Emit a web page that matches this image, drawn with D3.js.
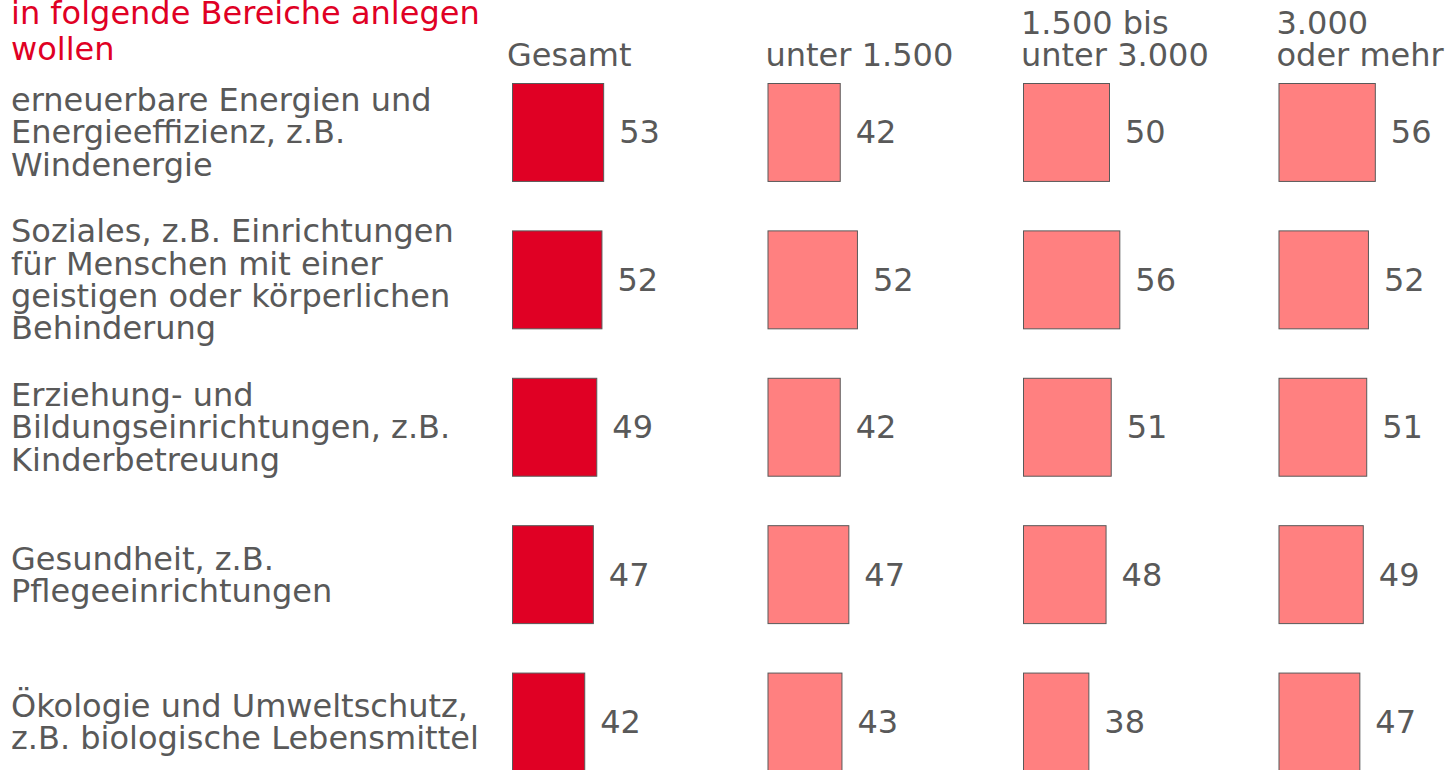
<!DOCTYPE html>
<html>
<head>
<meta charset="utf-8">
<script src="https://cdn.jsdelivr.net/npm/d3@7"></script>
<style>
  html, body { margin: 0; padding: 0; background: #fff; overflow: hidden; }
  svg { display: block; font-family: "DejaVu Sans", Verdana, sans-serif; }
</style>
</head>
<body>
<svg width="1450" height="770"></svg>
<script>
// title lines (top of the title is cut off in the source)
const titleLines = ["in folgende Bereiche anlegen", "wollen"];

// rows
const categories = [
    ["erneuerbare Energien und", "Energieeffizienz, z.B.", "Windenergie"],
    ["Soziales, z.B. Einrichtungen", "für Menschen mit einer", "geistigen oder körperlichen", "Behinderung"],
    ["Erziehung- und", "Bildungseinrichtungen, z.B.", "Kinderbetreuung"],
    ["Gesundheit, z.B.", "Pflegeeinrichtungen"],
    ["Ökologie und Umweltschutz,", "z.B. biologische Lebensmittel"]
];

// column groups
const groups = ["Gesamt", "unter 1.500", "1.500 bis unter 3.000", "3.000 oder mehr"];
const groupHeaders = [["Gesamt"], ["unter 1.500"], ["1.500 bis", "unter 3.000"], ["3.000", "oder mehr"]];

// values per group, in row order
const gesamt = [53, 52, 49, 47, 42];
const unter1500 = [42, 52, 42, 47, 43];
const von1500bis3000 = [50, 56, 51, 48, 38];
const ab3000 = [56, 52, 51, 49, 47];
const series = [gesamt, unter1500, von1500bis3000, ab3000];

const textColor = "#595959";
const fills = ["#e00024", "#ff8080", "#ff8080", "#ff8080"];
const fontSize = 32;
const lineH = 32.3;

const svg = d3.select("svg");

const rowIdx = d3.range(categories.length);
const y = d3.scaleBand()
    .domain(rowIdx)
    .range([83, 770.5])
    .paddingInner(0.3356)
    .paddingOuter(0);

const col = d3.scaleBand()
    .domain(groups)
    .range([512, 1534]);

const w = d3.scaleLinear()
    .domain([0, 100])
    .range([0, 172]);

// title
svg.append("text")
    .attr("x", 11)
    .attr("y", 24)
    .attr("fill", "#e00024")
    .attr("font-size", fontSize)
    .selectAll("tspan")
    .data(titleLines)
    .join("tspan")
    .attr("x", 11)
    .attr("dy", (d, i) => i === 0 ? 0 : 36)
    .text(d => d);

// column headers, bottom-aligned
groups.forEach((g, gi) => {
    const lines = groupHeaders[gi];
    svg.append("text")
        .attr("fill", textColor)
        .attr("font-size", fontSize)
        .selectAll("tspan")
        .data(lines)
        .join("tspan")
        .attr("x", col(g) - (gi === 0 ? 5 : 2))
        .attr("y", (d, i) => 66 - (lines.length - 1 - i) * lineH)
        .text(d => d);
});

// row labels, centred on the bars
categories.forEach((lines, ri) => {
    const cy = y(ri) + y.bandwidth() / 2;
    const top = cy - (lines.length - 1) * lineH / 2;
    svg.append("text")
        .attr("fill", textColor)
        .attr("font-size", fontSize)
        .selectAll("tspan")
        .data(lines)
        .join("tspan")
        .attr("x", 11)
        .attr("y", (d, i) => top + i * lineH)
        .attr("dy", "0.36em")
        .text(d => d);
});

// bars and value labels
groups.forEach((g, gi) => {
    const cell = svg.append("g");
    const data = series[gi].map((v, ri) => ({ v, ri }));

    cell.selectAll("rect")
        .data(data)
        .join("rect")
        .attr("x", col(g) + 0.5)
        .attr("y", d => y(d.ri) + 0.5)
        .attr("width", d => w(d.v))
        .attr("height", y.bandwidth())
        .attr("fill", fills[gi])
        .attr("stroke", "#595959")
        .attr("stroke-width", 1);

    cell.selectAll("text")
        .data(data)
        .join("text")
        .attr("x", d => col(g) + w(d.v) + 16)
        .attr("y", d => y(d.ri) + y.bandwidth() / 2)
        .attr("dy", "0.36em")
        .attr("fill", textColor)
        .attr("font-size", fontSize)
        .text(d => d.v);
});
</script>
</body>
</html>
